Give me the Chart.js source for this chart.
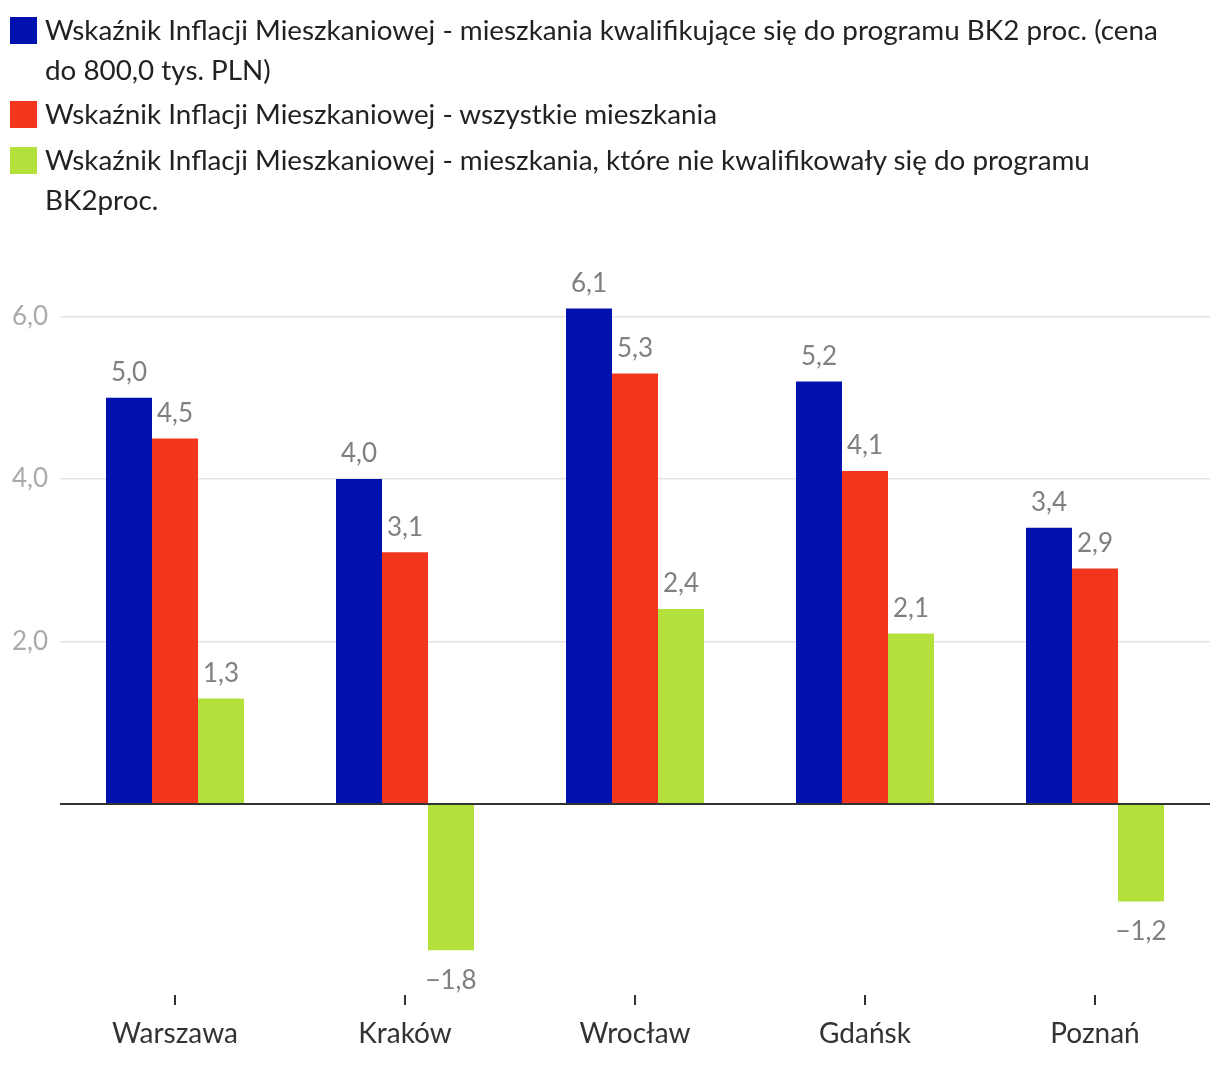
<!DOCTYPE html>
<html>
<head>
<meta charset="utf-8">
<script src="https://cdn.jsdelivr.net/npm/chart.js@4"></script>
<style>
  html, body { margin: 0; padding: 0; background: #fff; }
  #wrap { position: relative; width: 1220px; height: 1066px; font-family: Lato, sans-serif; }
  #legend { position: absolute; left: 10px; top: 10px; width: 1210px; }
  .item { display: flex; align-items: flex-start; color: #222; font-size: 27.8px; line-height: 40px; }
  .sw { width: 27px; height: 27px; margin-top: 7px; margin-right: 8px; flex: none; }
  .txt { white-space: nowrap; }
  canvas { position: absolute; left: 0; top: 0; }
</style>
</head>
<body>
<div id="wrap">
  <canvas id="c" width="1220" height="1066"></canvas>
  <div id="legend"></div>
</div>
<script>
const categories = ['Warszawa', 'Kraków', 'Wrocław', 'Gdańsk', 'Poznań'];
const seriesNames = [
  ['Wskaźnik Inflacji Mieszkaniowej - mieszkania kwalifikujące się do programu BK2 proc. (cena', 'do 800,0 tys. PLN)'],
  ['Wskaźnik Inflacji Mieszkaniowej - wszystkie mieszkania'],
  ['Wskaźnik Inflacji Mieszkaniowej - mieszkania, które nie kwalifikowały się do programu', 'BK2proc.']
];
const qualifying = [5.0, 4.0, 6.1, 5.2, 3.4];
const allFlats = [4.5, 3.1, 5.3, 4.1, 2.9];
const nonQualifying = [1.3, -1.8, 2.4, 2.1, -1.2];
const yTicks = [0, 2, 4, 6];
const colors = ['#0011AD', '#F2361E', '#B3E03A'];

// HTML legend (wrapped text)
const legendEl = document.getElementById('legend');
seriesNames.forEach((lines, i) => {
  const it = document.createElement('div');
  it.className = 'item';
  it.style.marginBottom = i === 0 ? '4px' : '6px';
  const sw = document.createElement('div');
  sw.className = 'sw';
  sw.style.background = colors[i];
  const tx = document.createElement('div');
  tx.className = 'txt';
  tx.innerHTML = lines.map(l => l.replace(/&/g, '&amp;').replace(/</g, '&lt;')).join('<br>');
  it.appendChild(sw); it.appendChild(tx);
  legendEl.appendChild(it);
});

const fmt = v => v.toFixed(1).replace('.', ',').replace('-', '\u2212');

const dataLabels = {
  id: 'dataLabels',
  afterDatasetsDraw(chart) {
    const ctx = chart.ctx;
    ctx.save();
    ctx.font = '26px Lato';
    ctx.fillStyle = '#808080';
    ctx.textAlign = 'center';
    ctx.textBaseline = 'middle';
    chart.data.datasets.forEach((ds, i) => {
      chart.getDatasetMeta(i).data.forEach((bar, j) => {
        const v = ds.data[j];
        const y = v >= 0 ? bar.y - 25 : bar.y + 30;
        ctx.fillText(fmt(v), bar.x, y);
      });
    });
    ctx.restore();
  }
};

new Chart(document.getElementById('c'), {
  type: 'bar',
  data: {
    labels: categories,
    datasets: [
      { label: seriesNames[0].join(' '), data: qualifying, backgroundColor: colors[0] },
      { label: seriesNames[1].join(' '), data: allFlats, backgroundColor: colors[1] },
      { label: seriesNames[2].join(' '), data: nonQualifying, backgroundColor: colors[2] }
    ]
  },
  options: {
    responsive: false,
    animation: false,
    devicePixelRatio: 1,
    layout: { padding: { top: 276, left: 0, right: 10, bottom: 0 } },
    datasets: { bar: { categoryPercentage: 0.6, barPercentage: 1.0 } },
    plugins: { legend: { display: false }, tooltip: { enabled: false } },
    scales: {
      x: {
        offset: true,
        grid: { offset: false, drawOnChartArea: false, drawTicks: true, tickLength: 10, color: '#333', lineWidth: 2 },
        border: { display: false },
        ticks: { color: '#333', font: { family: 'Lato', size: 28 }, padding: 12, maxRotation: 0 },
        afterFit(s) { s.height = 71; }
      },
      y: {
        min: -2.35,
        max: 6.5,
        afterBuildTicks(s) { s.ticks = yTicks.map(v => ({ value: v })); },
        grid: {
          drawTicks: false,
          color: c => c.tick && c.tick.value === 0 ? '#333' : '#e3e3e3',
          lineWidth: c => c.tick && c.tick.value === 0 ? 2 : 1.5
        },
        border: { display: false },
        ticks: {
          color: '#aaa',
          font: { family: 'Lato', size: 26 },
          padding: 12,
          callback: v => v === 0 ? '' : fmt(v)
        },
        afterFit(s) { s.width = 60; }
      }
    }
  },
  plugins: [dataLabels]
});
</script>
</body>
</html>
